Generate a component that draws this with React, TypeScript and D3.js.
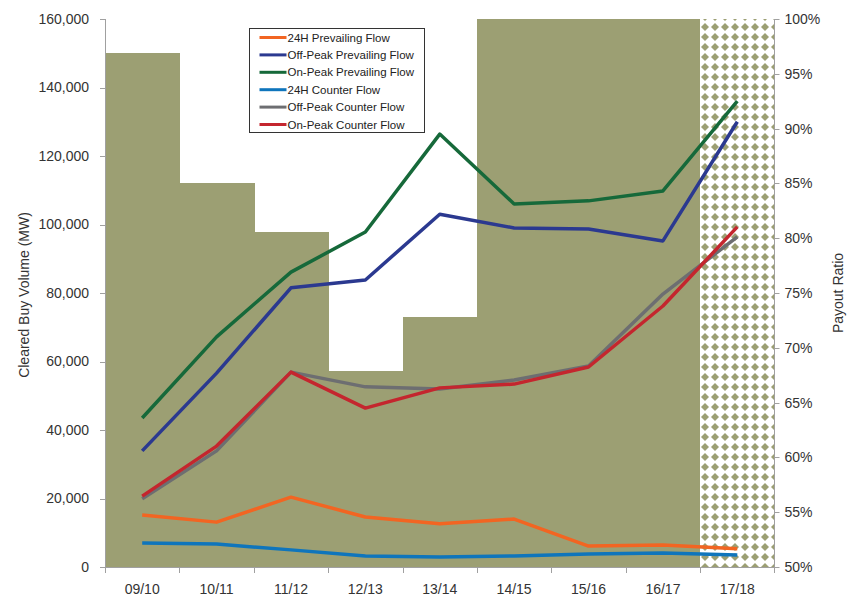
import React, { useEffect, useRef } from 'react'
import * as d3 from 'd3'

const years = ['09/10', '10/11', '11/12', '12/13', '13/14', '14/15', '15/16', '16/17', '17/18']

// payout ratio (%) behind the lines, last year still pending
const payout = [96.9, 85, 80.6, 67.9, 72.8, 100, 100, 100, 100]
const pending = [false, false, false, false, false, false, false, false, true]

const seriesNames = [
  '24H Prevailing Flow',
  'Off-Peak Prevailing Flow',
  'On-Peak Prevailing Flow',
  '24H Counter Flow',
  'Off-Peak Counter Flow',
  'On-Peak Counter Flow'
]
const seriesColors = ['#f26522', '#2b3990', '#16693a', '#0f75bc', '#6d6e71', '#c4262e']

const prev24 = [15200, 13100, 20400, 14600, 12600, 14000, 6100, 6400, 5300]
const prevOff = [33900, 56600, 81500, 83800, 103000, 99000, 98700, 95200, 130000]
const prevOn = [43500, 67200, 86100, 97800, 126400, 106000, 106900, 109800, 136000]
const counter24 = [7000, 6700, 5000, 3200, 2900, 3200, 3800, 4100, 3500]
const counterOff = [19900, 33900, 56900, 52600, 52000, 54600, 58700, 79700, 96400]
const counterOn = [20700, 35300, 56900, 46400, 52300, 53400, 58400, 76200, 99300]

const seriesValues = [prev24, prevOff, prevOn, counter24, counterOff, counterOn]
// drawing order so the prevailing lines sit on top like the original
const drawOrder = [3, 4, 5, 0, 1, 2]

const leftTicks = [0, 20000, 40000, 60000, 80000, 100000, 120000, 140000, 160000]
const rightTicks = [50, 55, 60, 65, 70, 75, 80, 85, 90, 95, 100]

const App: React.FC = () => {
  const svgRef = useRef<SVGSVGElement>(null)

  useEffect(() => {
    if (!svgRef.current) return
    const svg = d3.select(svgRef.current)
    svg.selectAll('*').remove()

    const width = 847
    const height = 597
    const left = 105
    const right = 774.5
    const top = 19
    const bottom = 567
    const olive = '#9c9f73'
    const axisColor = '#a0a0a0'
    const font = '"Liberation Sans", Arial, sans-serif'

    svg.attr('width', width).attr('height', height)

    const x = d3.scaleBand().domain(years).range([left, right]).padding(0)
    const y = d3.scaleLinear().domain([0, 160000]).range([bottom, top])
    const yR = d3.scaleLinear().domain([50, 100]).range([bottom, top])

    // diamond pattern for the pending year
    const defs = svg.append('defs')
    const pat = defs.append('pattern')
      .attr('id', 'diamonds')
      .attr('patternUnits', 'userSpaceOnUse')
      .attr('width', 10)
      .attr('height', 10)
      .attr('x', 0)
      .attr('y', 2)
    pat.append('rect').attr('width', 10).attr('height', 10).attr('fill', '#fff')
    pat.append('path').attr('d', 'M5,1 L9,5 L5,9 L1,5 Z').attr('fill', olive)

    // payout ratio columns
    svg.append('g')
      .attr('shape-rendering', 'crispEdges')
      .selectAll('rect')
      .data(years)
      .enter()
      .append('rect')
      .attr('x', d => Math.round(x(d) as number))
      .attr('width', (d, i) => Math.round((x(d) as number) + x.bandwidth()) - Math.round(x(d) as number) + (i < years.length - 1 ? 1 : 0))
      .attr('y', (d, i) => yR(payout[i]))
      .attr('height', (d, i) => bottom - yR(payout[i]))
      .attr('fill', (d, i) => (pending[i] ? 'url(#diamonds)' : olive))

    // axes
    const axisG = svg.append('g').attr('stroke', axisColor).attr('stroke-width', 1)
    axisG.append('line').attr('x1', left + 0.5).attr('x2', left + 0.5).attr('y1', top).attr('y2', bottom)
    axisG.append('line').attr('x1', right).attr('x2', right).attr('y1', top).attr('y2', bottom)
    axisG.append('line').attr('x1', left).attr('x2', right).attr('y1', bottom + 0.5).attr('y2', bottom + 0.5)

    leftTicks.forEach(t => {
      axisG.append('line').attr('x1', left - 5).attr('x2', left).attr('y1', Math.round(y(t)) + 0.5).attr('y2', Math.round(y(t)) + 0.5)
    })
    rightTicks.forEach(t => {
      axisG.append('line').attr('x1', right).attr('x2', right + 5).attr('y1', Math.round(yR(t)) + 0.5).attr('y2', Math.round(yR(t)) + 0.5)
    })
    years.forEach(yr => {
      const xx = Math.round(x(yr) as number) + 0.5
      axisG.append('line').attr('x1', xx).attr('x2', xx).attr('y1', bottom).attr('y2', bottom + 6)
    })
    axisG.append('line').attr('x1', right).attr('x2', right).attr('y1', bottom).attr('y2', bottom + 6)

    const fmt = d3.format(',')
    svg.append('g')
      .selectAll('text')
      .data(leftTicks)
      .enter()
      .append('text')
      .attr('x', left - 16)
      .attr('y', d => y(d))
      .attr('dy', '0.35em')
      .attr('text-anchor', 'end')
      .style('font-family', font)
      .style('font-size', '14px')
      .style('fill', '#333')
      .text(d => fmt(d))

    svg.append('g')
      .selectAll('text')
      .data(rightTicks)
      .enter()
      .append('text')
      .attr('x', right + 10)
      .attr('y', d => yR(d))
      .attr('dy', '0.35em')
      .style('font-family', font)
      .style('font-size', '14px')
      .style('fill', '#333')
      .text(d => `${d}%`)

    svg.append('g')
      .selectAll('text')
      .data(years)
      .enter()
      .append('text')
      .attr('x', d => (x(d) as number) + x.bandwidth() / 2)
      .attr('y', bottom + 27)
      .attr('text-anchor', 'middle')
      .style('font-family', font)
      .style('font-size', '14px')
      .style('fill', '#333')
      .text(d => d)

    svg.append('text')
      .attr('transform', `translate(29, ${(top + bottom) / 2 + 2}) rotate(-90)`)
      .attr('text-anchor', 'middle')
      .style('font-family', font)
      .style('font-size', '14px')
      .style('fill', '#333')
      .text('Cleared Buy Volume (MW)')

    svg.append('text')
      .attr('transform', `translate(843, ${(top + bottom) / 2}) rotate(-90)`)
      .attr('text-anchor', 'middle')
      .style('font-family', font)
      .style('font-size', '14px')
      .style('fill', '#333')
      .text('Payout Ratio')

    // lines
    const line = d3.line<number>()
      .x((d, i) => (x(years[i]) as number) + x.bandwidth() / 2)
      .y(d => y(d))

    drawOrder.forEach(s => {
      svg.append('path')
        .datum(seriesValues[s])
        .attr('d', line)
        .attr('fill', 'none')
        .attr('stroke', seriesColors[s])
        .attr('stroke-width', 3.5)
        .attr('stroke-linejoin', 'round')
    })

    // legend
    const legend = svg.append('g').attr('transform', 'translate(249.5, 28.5)')
    legend.append('rect')
      .attr('width', 175)
      .attr('height', 104)
      .attr('fill', '#fff')
      .attr('stroke', '#333')
      .attr('stroke-width', 1)
    seriesNames.forEach((name, i) => {
      const yy = 9 + i * 17.4
      legend.append('line')
        .attr('x1', 10).attr('x2', 37)
        .attr('y1', yy).attr('y2', yy)
        .attr('stroke', seriesColors[i])
        .attr('stroke-width', 3)
      legend.append('text')
        .attr('x', 38)
        .attr('y', yy)
        .attr('dy', '0.35em')
        .style('font-family', font)
        .style('font-size', '11.5px')
        .style('fill', '#222')
        .text(name)
    })
  }, [])

  return (
    <svg ref={svgRef} style={{ position: 'absolute', left: 0, top: 0, display: 'block' }}></svg>
  )
}

export default App
